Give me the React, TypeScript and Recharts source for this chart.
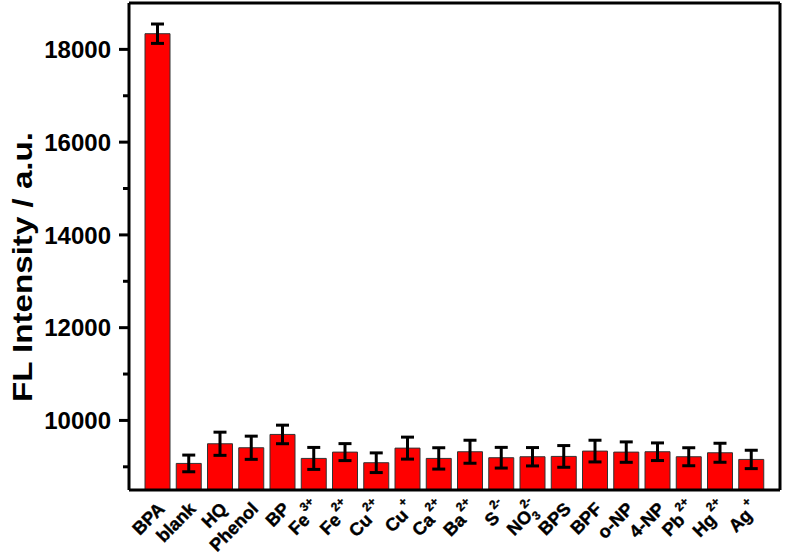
import React from 'react';
import { BarChart, Bar, XAxis, YAxis, ErrorBar } from 'recharts';

const categories = ['BPA', 'blank', 'HQ', 'Phenol', 'BP', 'Fe3+', 'Fe2+', 'Cu2+', 'Cu+', 'Ca2+', 'Ba2+', 'S2-', 'NO3 2-', 'BPS', 'BPF', 'o-NP', '4-NP', 'Pb2+', 'Hg2+', 'Ag+'];
const labelBase = ['BPA', 'blank', 'HQ', 'Phenol', 'BP', 'Fe', 'Fe', 'Cu', 'Cu', 'Ca', 'Ba', 'S', 'NO', 'BPS', 'BPF', 'o-NP', '4-NP', 'Pb', 'Hg', 'Ag'];
const labelSup = ['', '', '', '', '', '3+', '2+', '2+', '+', '2+', '2+', '2-', '2-', '', '', '', '', '2+', '2+', '+'];
const labelSub = ['', '', '', '', '', '', '', '', '', '', '', '', '3', '', '', '', '', '', '', ''];
const intensity = [18338, 9073, 9497, 9411, 9698, 9181, 9317, 9088, 9403, 9181, 9325, 9196, 9217, 9224, 9339, 9317, 9325, 9217, 9303, 9159];
const errors = [209, 180, 250, 250, 200, 237, 183, 212, 237, 230, 248, 223, 198, 234, 234, 220, 190, 194, 205, 198];
const yTicks = [9000, 10000, 11000, 12000, 13000, 14000, 15000, 16000, 17000, 18000];
const yMajor = [10000, 12000, 14000, 16000, 18000];
const yTitle = 'FL Intensity / a.u.';

const data = categories.map((c, i) => ({ name: c, idx: i, value: intensity[i], err: errors[i] }));

const FONT = '"Liberation Sans", Arial, sans-serif';

const YTick = (props: any) => {
  const { x, y, payload } = props;
  const major = yMajor.includes(payload.value);
  const len = major ? 10 : 6;
  return (
    <g>
      <line x1={x - len} x2={x} y1={y} y2={y} stroke="#000" strokeWidth={3} />
      {major && (
        <text x={x - 18} y={y} dy="0.36em" textAnchor="end" fontFamily={FONT} fontWeight="bold" fontSize={24} fill="#000">
          {payload.value}
        </text>
      )}
    </g>
  );
};

const XTick = (props: any) => {
  const { x, payload, index } = props;
  const i = categories.indexOf(payload.value);
  const k = i >= 0 ? i : index;
  const sup = labelSup[k];
  const sub = labelSub[k];
  return (
    <g transform={`translate(${x + 8},${510})`}>
      <text transform="rotate(-45)" textAnchor="end" fontFamily={FONT} fontWeight="bold" fontSize={18} fill="#000" stroke="#000" strokeWidth={0.4}>
        {labelBase[k]}
        {sub && <tspan dy={5} fontSize={12}>{sub}</tspan>}
        {sup && (
          <tspan dx={sub ? -7 : 2} dy={sub ? -17 : -11} fontSize={12}>
            {sup}
          </tspan>
        )}
      </text>
    </g>
  );
};

const YTitle = () => (
  <text
    transform="translate(32,267) rotate(-90)"
    textAnchor="middle"
    fontFamily={FONT}
    fontWeight="bold"
    fontSize={27}
    fill="#000"
    textLength={270}
    lengthAdjust="spacingAndGlyphs"
  >
    {yTitle}
  </text>
);

export default function App() {
  return (
    <div style={{ position: 'absolute', left: 0, top: 0, background: '#fff' }}>
      <BarChart width={785} height={558} data={data} margin={{ top: 2, right: 4, bottom: 0, left: 0 }} barSize={25}>
        <XAxis
          dataKey="name"
          xAxisId="main"
          height={68}
          interval={0}
          padding={{ left: 13, right: 13 }}
          axisLine={{ stroke: '#000', strokeWidth: 3 }}
          tickLine={false}
          tickSize={0}
          tickMargin={0}
          tick={<XTick />}
        />
        <XAxis xAxisId="top" orientation="top" dataKey="name" height={1} tick={false} tickLine={false} axisLine={{ stroke: '#000', strokeWidth: 3 }} />
        <YAxis
          yAxisId="main"
          width={129}
          domain={[8500, 19000]}
          allowDataOverflow
          ticks={yTicks}
          interval={0}
          axisLine={{ stroke: '#000', strokeWidth: 3 }}
          tickLine={false}
          tickSize={0}
          tickMargin={0}
          tick={<YTick />}
          label={<YTitle />}
        />
        <YAxis yAxisId="right" orientation="right" width={1} domain={[8500, 19000]} tick={false} tickLine={false} axisLine={{ stroke: '#000', strokeWidth: 3 }} />
        <Bar dataKey="value" xAxisId="main" yAxisId="main" fill="#ff0000" stroke="#333" strokeWidth={1} isAnimationActive={false}>
          <ErrorBar dataKey="err" width={6.5} stroke="#000" strokeWidth={3} isAnimationActive={false} />
        </Bar>
      </BarChart>
    </div>
  );
}
